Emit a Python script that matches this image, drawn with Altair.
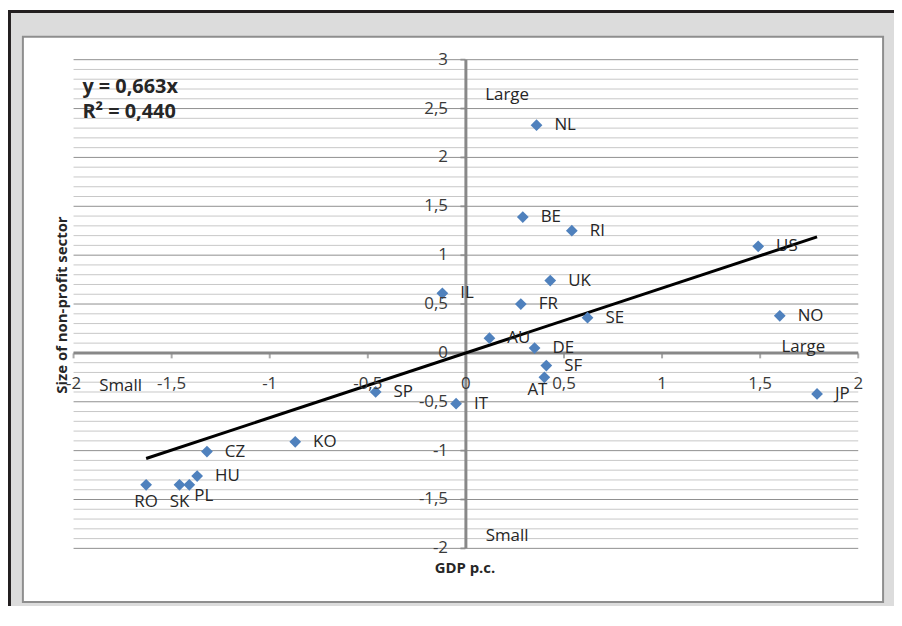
import altair as alt
import pandas as pd

# ---------------- data ----------------
countries = ["NL", "BE", "RI", "US", "UK", "IL", "FR", "SE", "NO", "AU", "DE",
             "SF", "AT", "SP", "IT", "JP", "KO", "CZ", "HU", "PL", "SK", "RO"]
gdp = [0.36, 0.29, 0.54, 1.49, 0.43, -0.12, 0.28, 0.62, 1.60, 0.12, 0.35,
       0.41, 0.40, -0.46, -0.05, 1.79, -0.87, -1.32, -1.37, -1.41, -1.46, -1.63]
npo = [2.33, 1.39, 1.25, 1.09, 0.74, 0.61, 0.50, 0.36, 0.38, 0.15, 0.05,
       -0.13, -0.25, -0.40, -0.52, -0.42, -0.91, -1.01, -1.26, -1.35, -1.35, -1.35]

slope = 0.663
eq_lines = ["y = 0,663x", "R² = 0,440"]
eq_x = [-1.955, -1.955]
eq_y = [2.715, 2.46]

notes = ["Large", "Small", "Small", "Large"]
note_x = [0.21, 0.21, -1.76, 1.72]
note_y = [2.64, -1.87, -0.34, 0.06]

x_ticks = [-2, -1.5, -1, -0.5, 0, 0.5, 1, 1.5, 2]
y_ticks = [-2, -1.5, -1, -0.5, 0, 0.5, 1, 1.5, 2, 2.5, 3]
x_title = "GDP p.c."
y_title = "Size of non-profit sector"

# ---------------- layout / style ----------------
FONT = "Open Sans"
W, H = 790, 492
PAD_L, PAD_T = 66, 50
TOTAL_W, TOTAL_H = 892, 600
TXT = "#262626"
LBL = "#3a3a3a"
AXC = "#888888"
GREY = "#dcdcdc"

df = pd.DataFrame({"country": countries, "gdp": gdp, "npo": npo})
xmin, xmax = min(gdp), max(gdp)
trend = pd.DataFrame({"gdp": [xmin, xmax], "npo": [slope * xmin, slope * xmax]})

minor_vals = [round(-2 + 0.1 * i, 1) for i in range(51)]
minor_vals = [v for v in minor_vals if abs(v * 2 - round(v * 2)) > 1e-9]
grid_minor = pd.DataFrame({"v": minor_vals})
grid_major = pd.DataFrame({"v": y_ticks})
xt_df = pd.DataFrame({"v": x_ticks})
yt_df = pd.DataFrame({"v": y_ticks})

xs = alt.Scale(domain=[-2, 2], nice=False, zero=False)
ys = alt.Scale(domain=[-2, 3], nice=False, zero=False)
comma = "replace(toString(datum.v), '.', ',')"

one = pd.DataFrame({"a": [0]})


def X(field=None, datum=None):
    if field is not None:
        return alt.X(field, scale=xs, axis=None)
    return alt.X(datum=datum, scale=xs, axis=None)


def Y(field=None, datum=None):
    if field is not None:
        return alt.Y(field, scale=ys, axis=None)
    return alt.Y(datum=datum, scale=ys, axis=None)


# ---------- frame decoration ----------
def grey_box(x1, x2, y1, y2):
    return alt.Chart(one).mark_rect(fill=GREY, strokeWidth=0).encode(
        x=alt.value(x1), x2=alt.value(x2), y=alt.value(y1), y2=alt.value(y2))


L, R = -PAD_L, TOTAL_W - PAD_L
T, B = -PAD_T, TOTAL_H - PAD_T
px1, px2, py1, py2 = -51, 815, -23, 546
frame = [
    grey_box(L, px1, T, B), grey_box(px2, R, T, B),
    grey_box(L, R, T, py1), grey_box(L, R, py2, B),
]
panel_border = alt.Chart(one).mark_rect(fill="transparent", stroke="#8e8e8e",
                                        strokeWidth=2).encode(
    x=alt.value(px1), x2=alt.value(px2), y=alt.value(py1), y2=alt.value(py2))
border_v = alt.Chart(one).mark_rule(color="#231f20", strokeWidth=3).encode(
    x=alt.value(L + 1.5), y=alt.value(T), y2=alt.value(B))
border_h = alt.Chart(one).mark_rule(color="#231f20", strokeWidth=3).encode(
    y=alt.value(T + 1.5), x=alt.value(L), x2=alt.value(R))

# ---------- gridlines ----------
g_minor = alt.Chart(grid_minor).mark_rule(color="#c8c8c8", strokeWidth=1).encode(
    x=X(datum=-2), x2=alt.X2(datum=2), y=Y("v:Q"))
g_major = alt.Chart(grid_major).mark_rule(color="#8f8f8f", strokeWidth=1).encode(
    x=X(datum=-2), x2=alt.X2(datum=2), y=Y("v:Q"))

# ---------- axes crossing at zero ----------
x_dom = alt.Chart(one).mark_rule(color=AXC, strokeWidth=3).encode(
    x=X(datum=-2), x2=alt.X2(datum=2), y=Y(datum=0))
y_dom = alt.Chart(one).mark_rule(color=AXC, strokeWidth=3).encode(
    y=Y(datum=-2), y2=alt.Y2(datum=3), x=X(datum=0))
x_tk = alt.Chart(xt_df).mark_tick(orient="vertical", size=5, thickness=2,
                                  color=AXC, yOffset=3).encode(
    x=X("v:Q"), y=Y(datum=0))
y_tk = alt.Chart(yt_df).mark_tick(orient="horizontal", size=5, thickness=2,
                                  color=AXC, xOffset=-3).encode(
    y=Y("v:Q"), x=X(datum=0))
x_lab = alt.Chart(xt_df).transform_calculate(lab=comma).mark_text(
    font=FONT, fontSize=17, color=LBL, align="center", baseline="middle", dy=31
).encode(x=X("v:Q"), y=Y(datum=0), text="lab:N")
y_lab = alt.Chart(yt_df).transform_calculate(lab=comma).mark_text(
    font=FONT, fontSize=17, color=LBL, align="right", baseline="middle", dx=-18
).encode(y=Y("v:Q"), x=X(datum=0), text="lab:N")
x_tt = alt.Chart(pd.DataFrame({"t": [x_title]})).mark_text(
    font=FONT, fontSize=15, fontWeight="bold", color=TXT, align="center",
    baseline="middle").encode(x=alt.value(394), y=alt.value(512), text="t:N")
y_tt = alt.Chart(pd.DataFrame({"t": [y_title]})).mark_text(
    font=FONT, fontSize=15, fontWeight="bold", color=TXT, align="center",
    baseline="middle", angle=270).encode(x=alt.value(-12), y=alt.value(247), text="t:N")

# ---------- data marks ----------
line = alt.Chart(trend).mark_line(color="black", strokeWidth=3).encode(
    x=X("gdp:Q"), y=Y("npo:Q"))

points = alt.Chart(df).mark_point(shape="diamond", filled=True, size=140,
                                  color="#4F81BD", opacity=1).encode(
    x=X("gdp:Q"), y=Y("npo:Q"))

below = ["RO", "SK"]
special = ["AT", "PL"]
right_names = [c for c in countries if c not in below + special]


def labels(names, dx, dy, align):
    return alt.Chart(df).transform_filter(
        alt.FieldOneOfPredicate(field="country", oneOf=names)
    ).mark_text(align=align, baseline="middle", dx=dx, dy=dy, font=FONT,
                fontSize=17, color=TXT).encode(
        x=X("gdp:Q"), y=Y("npo:Q"), text="country:N")


lab_right = labels(right_names, 18, 0, "left")
lab_below = labels(below, 0, 17, "center")
lab_at = labels(["AT"], -7, 13, "center")
lab_pl = labels(["PL"], 5, 11, "left")

notes_df = pd.DataFrame({"t": notes, "x": note_x, "y": note_y})
note_layer = alt.Chart(notes_df).mark_text(font=FONT, fontSize=17, color=TXT,
                                           align="center", baseline="middle").encode(
    x=X("x:Q"), y=Y("y:Q"), text="t:N")

eq_df = pd.DataFrame({"t": eq_lines, "x": eq_x, "y": eq_y})
eq_layer = alt.Chart(eq_df).mark_text(font=FONT, fontSize=20, fontWeight="bold",
                                      color=TXT, align="left", baseline="middle").encode(
    x=X("x:Q"), y=Y("y:Q"), text="t:N")

chart = alt.layer(
    g_minor, g_major, x_dom, y_dom, x_tk, y_tk, line, points,
    x_lab, y_lab, x_tt, y_tt,
    lab_right, lab_below, lab_at, lab_pl, note_layer, eq_layer,
    *frame, panel_border, border_v, border_h,
).properties(
    width=W, height=H,
    padding={"left": PAD_L, "top": PAD_T, "right": TOTAL_W - PAD_L - W,
             "bottom": TOTAL_H - PAD_T - H},
    autosize=alt.AutoSizeParams(type="none"),
    background="white",
).configure_view(stroke="transparent")

chart.save("out.html", embed_options={"renderer": "svg", "actions": False})
